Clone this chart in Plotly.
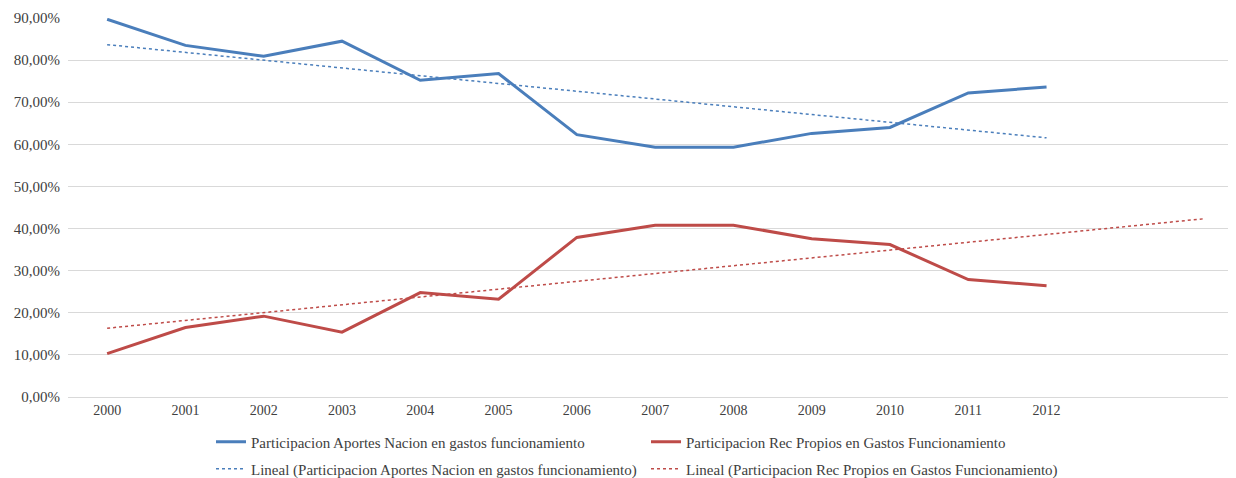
import numpy as np
import plotly.graph_objects as go

years = [2000, 2001, 2002, 2003, 2004, 2005, 2006, 2007, 2008, 2009, 2010, 2011, 2012]
aportes_nacion = [89.7, 83.5, 80.9, 84.5, 75.2, 76.8, 62.3, 59.3, 59.3, 62.6, 64.0, 72.2, 73.6]
rec_propios = [10.3, 16.5, 19.2, 15.4, 24.8, 23.2, 37.9, 40.8, 40.8, 37.6, 36.2, 27.9, 26.4]
y_ticks = [0, 10, 20, 30, 40, 50, 60, 70, 80, 90]
y_ticktext = ["0,00%", "10,00%", "20,00%", "30,00%", "40,00%", "50,00%", "60,00%", "70,00%", "80,00%", "90,00%"]

name_a = "Participacion Aportes Nacion en gastos funcionamiento"
name_r = "Participacion Rec Propios en Gastos Funcionamiento"
name_ta = "Lineal (Participacion Aportes Nacion en gastos funcionamiento)"
name_tr = "Lineal (Participacion Rec Propios en Gastos Funcionamiento)"

BLUE = "#4a7ebb"
RED = "#be4b48"
TXT = "#404040"
FONT = "Liberation Serif, Times New Roman, DejaVu Serif, serif"

# Linear trendlines (least squares, as Excel), red extended 2 periods forward
xa = np.array(years, dtype=float)
pa = np.polyfit(xa, np.array(aportes_nacion), 1)
pr = np.polyfit(xa, np.array(rec_propios), 1)
ta_x = [years[0], years[-1]]
tr_x = [years[0], years[-1] + 2]

fig = go.Figure()
fig.add_trace(go.Scatter(x=years, y=aportes_nacion, mode="lines", name=name_a,
                         line=dict(color=BLUE, width=3), legend="legend"))
fig.add_trace(go.Scatter(x=years, y=rec_propios, mode="lines", name=name_r,
                         line=dict(color=RED, width=3), legend="legend2"))
fig.add_trace(go.Scatter(x=ta_x, y=list(np.polyval(pa, ta_x)), mode="lines", name=name_ta,
                         line=dict(color=BLUE, width=1.5, dash="dot"), legend="legend3"))
fig.add_trace(go.Scatter(x=tr_x, y=list(np.polyval(pr, tr_x)), mode="lines", name=name_tr,
                         line=dict(color=RED, width=1.5, dash="dot"), legend="legend4"))

OFF = 8  # page body margin
W, H = 1236 - OFF, 478 - OFF
L, T = 68 - OFF, 18 - OFF
B = 478 - 397
pw = W - L
ph = H - T - B

def px(xp):
    return (xp - OFF - L) / pw

def py(yp):
    return (H - B - (yp - OFF)) / ph

leg_common = dict(orientation="h", xanchor="left", yanchor="middle",
                  bgcolor="rgba(0,0,0,0)", font=dict(family=FONT, size=15, color=TXT))

fig.update_layout(
    width=W, height=H,
    margin=dict(l=L, r=0, t=T, b=B, autoexpand=False),
    paper_bgcolor="white", plot_bgcolor="white",
    font=dict(family=FONT, size=14, color=TXT),
    showlegend=True,
    legend=dict(x=px(211), y=py(442), **leg_common),
    legend2=dict(x=px(646), y=py(442), **leg_common),
    legend3=dict(x=px(211), y=py(469), **leg_common),
    legend4=dict(x=px(646), y=py(469), **leg_common),
    xaxis=dict(range=[1999.5, 2014.42], tickvals=years, ticktext=[str(y) for y in years],
               showgrid=False, zeroline=False, showline=False, ticks="",
               ticklabelstandoff=3,
               tickfont=dict(family=FONT, size=14, color=TXT)),
    yaxis=dict(range=[0, 90], tickvals=y_ticks, ticktext=y_ticktext,
               showgrid=True, gridcolor="#d9d9d9", gridwidth=1,
               zeroline=True, zerolinecolor="#d9d9d9", zerolinewidth=1,
               showline=False, ticks="", ticklabelstandoff=7,
               tickfont=dict(family=FONT, size=15, color=TXT)),
)

fig.write_html("out.html")
